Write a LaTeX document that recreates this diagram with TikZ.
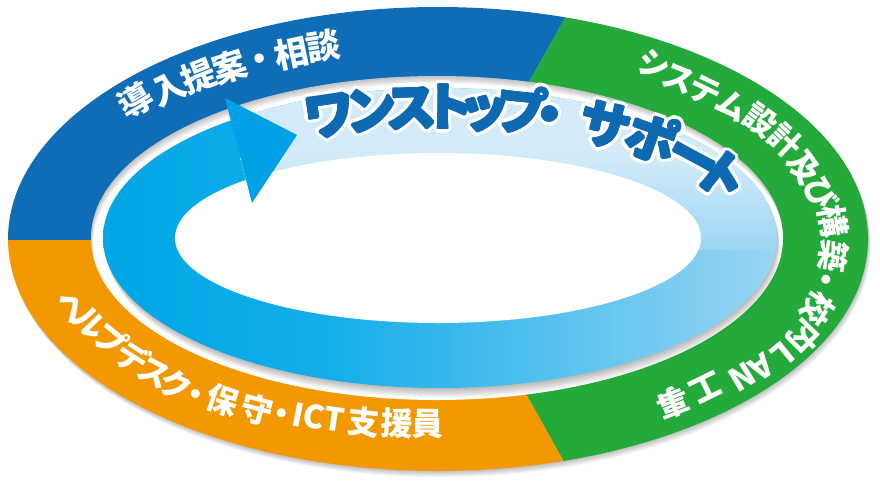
\documentclass[tikz,border=0pt]{standalone}
\usepackage{fontspec}
\newfontfamily\jp{Noto Sans CJK JP}
\definecolor{rblue}{HTML}{0F6DB7}
\definecolor{rgreen}{HTML}{23AA3A}
\definecolor{rorange}{HTML}{F39800}
\definecolor{acyan}{HTML}{00A6E6}
\definecolor{acyan2}{HTML}{14AEEA}
\definecolor{alight}{HTML}{9AD5F3}
\definecolor{alight2}{HTML}{9CD6F4}
\definecolor{apale}{HTML}{D3EBF9}
\definecolor{ahead}{HTML}{00A2E5}
\definecolor{tblue}{HTML}{0E69B3}
\pgfdeclarehorizontalshading{arrowh}{100bp}{color(0bp)=(acyan); color(25bp)=(acyan); color(42bp)=(acyan2); color(75bp)=(alight); color(100bp)=(alight)}
\pgfdeclareverticalshading{arrowv}{100bp}{color(0bp)=(alight2); color(25bp)=(alight2); color(54bp)=(apale); color(100bp)=(apale)}
% #1 cx #2 cy #3 A #4 B #5 sign #6 style #7 name prefix #8 list x/y/char
\newcommand\ellabel[8]{%
  \foreach \qx/\qy/\qc [count=\qi] in {#8}{%
    \pgfmathsetmacro\qt{atan2((#2-\qy)/#4,(\qx-#1)/#3)}%
    \pgfmathsetmacro\qr{#5>0 ? atan2(-#4*cos(\qt),#3*sin(\qt)) : atan2(#4*cos(\qt),-#3*sin(\qt))}%
    \node[#6,rotate=\qr] (#7-\qi) at (\qx,\qy) {\qc};
  }}
\def\wslist{110.9/ワ, 102.9/ン, 95.3/ス, 88.3/ト, 81.7/ッ, 74.7/プ, 69.2/・, 57.7/サ, 46.9/ポ, 35.4/ー, 25.8/ト}
\begin{document}
\begin{tikzpicture}[x=1pt,y=-1pt,
  lbl/.style={text=white,font=\jp\bfseries\fontsize{32}{32}\selectfont,inner sep=0pt,text height=0.88em,text depth=0.12em},
  lblbig/.style={lbl,font=\jp\bfseries\fontsize{34}{34}\selectfont},
  bigtxt/.style={font=\jp\bfseries\fontsize{51}{51}\selectfont,inner sep=0pt,text height=0.88em,text depth=0.12em}]
\useasboundingbox (0,0) rectangle (880,483);
\fill[white] (0,0) rectangle (880,483);
% outer drop shadow
\foreach \d in {1,...,7}
  \fill[black,opacity=0.035] (438+0.4*\d,239+0.9*\d) ellipse [x radius=430, y radius=232];
% ring segments
\begin{scope}
  \clip (438,239) ellipse [x radius=430, y radius=232];
  \fill[rblue] (440,240) -- (-100,240) -- (-100,-537) -- (877.5,-537) -- cycle;
  \fill[rgreen] (440,240) -- (877.5,-537) -- (1000,-537) -- (1000,1010) -- (870.5,1010) -- cycle;
  \fill[rorange] (440,240) -- (870.5,1010) -- (-100,1010) -- (-100,240) -- cycle;
\end{scope}
% hole
\fill[white] (437,238) ellipse [x radius=346, y radius=162];
\begin{scope}
  \clip (437,238) ellipse [x radius=346, y radius=162];
  \foreach \d in {1,...,7}
    \fill[black,opacity=0.035,even odd rule] (0,0) rectangle (880,483)
      (437+0.3*\d,238+1.1*\d) ellipse [x radius=346, y radius=162];
\end{scope}
% arrow ring shadow
\foreach \d in {1,...,8}
  \fill[black,opacity=0.035] (440+0.4*\d,238+1.2*\d) ellipse [x radius=337, y radius=150];
% arrow ring
\shade[shading=arrowh] (440,238) ellipse [x radius=337, y radius=150];
\begin{scope}
  \clip (440,238) ellipse [x radius=337, y radius=150];
  \clip (215,60) -- (900,60) -- (900,250) -- (264,250) -- cycle;
  \shade[shading=arrowv] (240,86) rectangle (790,250);
\end{scope}
\fill[white] (438,238) ellipse [x radius=263, y radius=85];
% arrow head
\fill[ahead] (225,98) -- (297,135) -- (252,203) -- cycle;
% big title text: white outline
\foreach \qt/\qc in \wslist {
  \pgfmathsetmacro\qx{440+303*cos(\qt)}
  \pgfmathsetmacro\qy{238-116*sin(\qt)}
  \pgfmathsetmacro\qr{atan2(-116*cos(\qt),303*sin(\qt))}
  \foreach \qa in {0,22.5,...,337.5}
    \node[bigtxt,text=white,rotate=\qr,shift={(\qa:4.5pt)}] at (\qx,\qy) {\qc};
}
\foreach \qt/\qc [count=\qi] in \wslist {
  \pgfmathsetmacro\qx{440+303*cos(\qt)}
  \pgfmathsetmacro\qy{238-116*sin(\qt)}
  \pgfmathsetmacro\qr{atan2(-116*cos(\qt),303*sin(\qt))}
  \foreach \qa in {0,45,...,315}
    \node[bigtxt,text=tblue,rotate=\qr,shift={(\qa:1.2pt)}] at (\qx,\qy) {\qc};
  \node[bigtxt,text=tblue,rotate=\qr] (title-\qi) at (\qx,\qy) {\qc};
}
% ring labels
\ellabel{438}{240}{388}{198}{1}{lblbig}{blue}{140/109/導, 172/97/入, 202/85/提, 232/76/案, 262/67/・, 293/62/相, 325/55/談}
\ellabel{438}{240}{388}{198}{1}{lbl}{green}{652/72/シ, 676/86/ス, 702/98/テ, 728/112/ム, 756/127/設, 780/147/計, 798/172/及, 813/197/び, 825/223/構, 825/255/築, 818/277/・, 811/304/校, 798/332/内, 777/348/L, 757/361/A, 738/370/N, 703/381/工, 670/395/事}
\ellabel{438}{240}{388}{198}{-1}{lbl}{orange}{65/312/ヘ, 84/328/ル, 105/347/プ, 128/365/デ, 150/380/ス, 173/393/ク, 193/402/・, 220/408/保, 255/418/守, 280/421/・, 297/423/I, 313/425/C, 333/427/T, 363/430/支, 397/432/援, 428/432/員}
\end{tikzpicture}
\end{document}
